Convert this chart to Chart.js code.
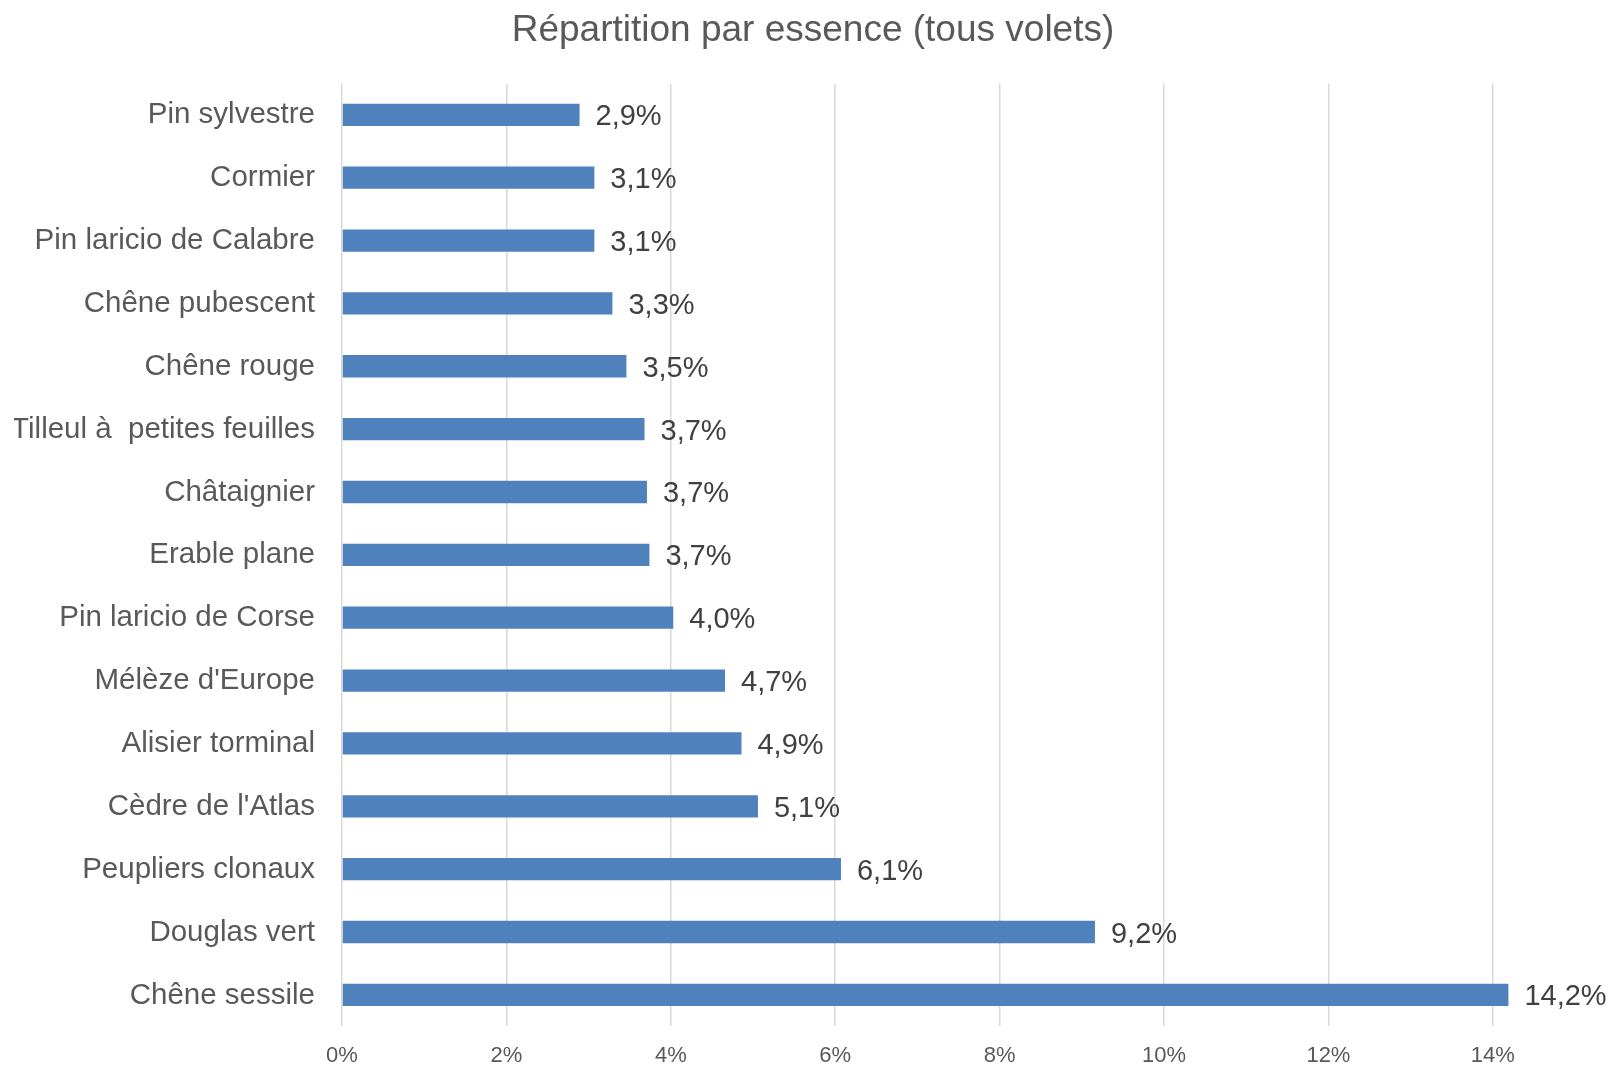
<!DOCTYPE html>
<html lang="fr">
<head>
<meta charset="utf-8">
<title>Répartition par essence</title>
<script src="https://cdn.jsdelivr.net/npm/chart.js@4.4.1/dist/chart.umd.min.js"></script>
<style>
    html, body { margin: 0; padding: 0; background: #fff; }
    #wrap { width: 1612px; height: 1071px; }
</style>
</head>
<body>
<div id="wrap"><canvas id="essence-chart" width="1612" height="1071"></canvas></div>
<script>
    // categories, top to bottom
    var essences = [
        'Pin sylvestre',
        'Cormier',
        'Pin laricio de Calabre',
        'Chêne pubescent',
        'Chêne rouge',
        'Tilleul à  petites feuilles',
        'Châtaignier',
        'Erable plane',
        'Pin laricio de Corse',
        "Mélèze d'Europe",
        'Alisier torminal',
        "Cèdre de l'Atlas",
        'Peupliers clonaux',
        'Douglas vert',
        'Chêne sessile'
    ];

    // share of each species, in percent
    var parts = [2.89, 3.07, 3.07, 3.29, 3.46, 3.68, 3.71, 3.74, 4.03, 4.66, 4.86, 5.06, 6.07, 9.16, 14.19];

    // tick labels shown on the x axis
    var xTicks = [0, 2, 4, 6, 8, 10, 12, 14];

    var fontFamily = '"Liberation Sans", Arial, sans-serif';
    var greyText = '#595959';

    var fmtPct = function (v) {
        return (Math.round(v * 10) / 10).toFixed(1).replace('.', ',') + '%';
    };

    // value labels at the end of each bar
    var valueLabels = {
        id: 'valueLabels',
        afterDraw: function (chart) {
            var ctx = chart.ctx;
            var meta = chart.getDatasetMeta(0);
            ctx.save();
            ctx.font = '29px ' + fontFamily;
            ctx.fillStyle = '#404040';
            ctx.textAlign = 'left';
            ctx.textBaseline = 'middle';
            meta.data.forEach(function (bar, i) {
                ctx.fillText(fmtPct(parts[i]), bar.x + 16, bar.y + 2.5);
            });
            ctx.restore();
        }
    };

    var config = {
        type: 'bar',
        data: {
            labels: essences,
            datasets: [{
                data: parts,
                backgroundColor: 'rgb(79, 129, 189)',
                borderWidth: 0,
                categoryPercentage: 1,
                barPercentage: 0.355
            }]
        },
        options: {
            indexAxis: 'y',
            responsive: false,
            animation: false,
            layout: { padding: { left: 14, right: 0, top: 0, bottom: 0 } },
            plugins: {
                legend: { display: false },
                tooltip: { enabled: false },
                title: {
                    display: true,
                    text: 'Répartition par essence (tous volets)',
                    color: greyText,
                    font: { family: fontFamily, size: 37, weight: 'normal' },
                    padding: { top: 9, bottom: 30 }
                }
            },
            scales: {
                x: {
                    min: 0,
                    max: 15.45,
                    afterBuildTicks: function (axis) {
                        axis.ticks = xTicks.map(function (v) { return { value: v }; });
                    },
                    afterFit: function (axis) { axis.height = 39; },
                    grid: {
                        color: '#d9d9d9',
                        lineWidth: 1.5,
                        drawTicks: false
                    },
                    border: { display: false },
                    ticks: {
                        padding: 16.5,
                        color: greyText,
                        font: { family: fontFamily, size: 22 },
                        callback: function (v) { return v + '%'; }
                    }
                },
                y: {
                    afterFit: function (axis) { axis.width = 328; },
                    grid: { display: false, drawTicks: false },
                    border: { display: false },
                    ticks: {
                        padding: 27,
                        labelOffset: 0.5,
                        color: greyText,
                        font: { family: fontFamily, size: 29.5 }
                    }
                }
            }
        },
        plugins: [valueLabels]
    };

    window.onload = function () {
        var ctx = document.getElementById('essence-chart').getContext('2d');
        window.essenceChart = new Chart(ctx, config);
    };
</script>
</body>
</html>
